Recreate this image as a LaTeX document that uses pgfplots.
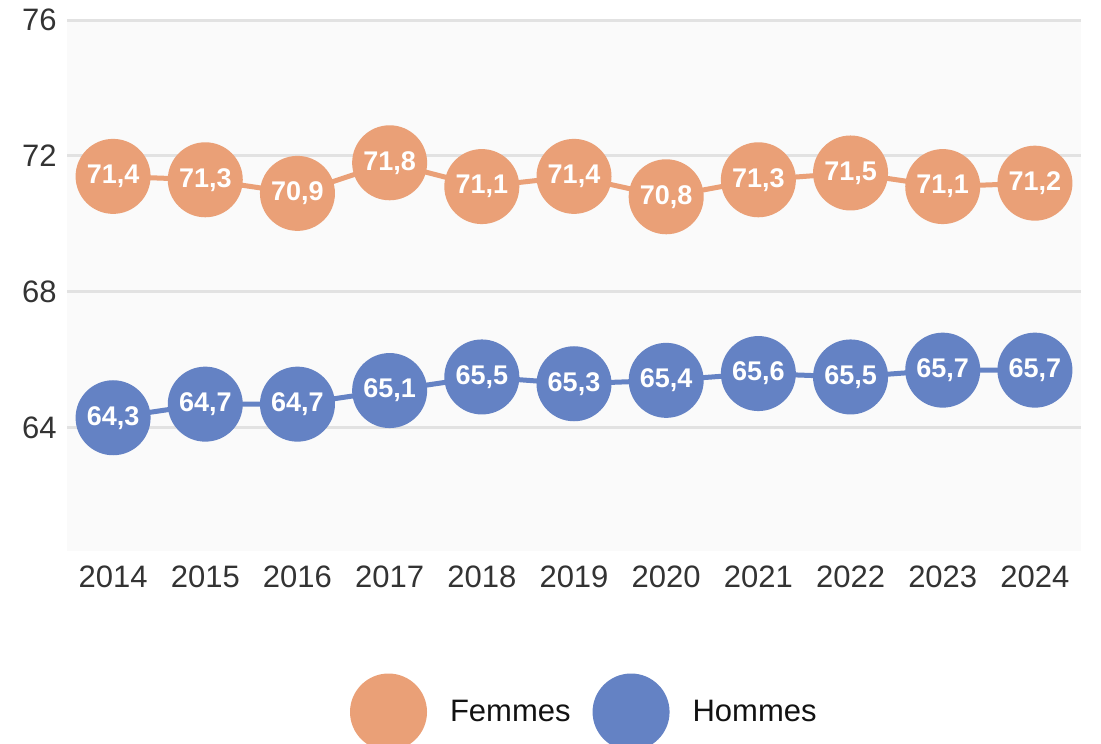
\documentclass[border=0pt]{standalone}
\usepackage{pgfplots}
\pgfplotsset{compat=1.18}
\usepackage{fontspec}
\setmainfont{Liberation Sans}
\definecolor{ocol}{HTML}{EAA077}
\definecolor{bcol}{HTML}{6482C4}
\definecolor{bgcol}{HTML}{FAFAFA}
\definecolor{gridcol}{HTML}{E2E2E2}
\definecolor{tickcol}{HTML}{333333}
\begin{document}
\begin{tikzpicture}
\useasboundingbox (0,0) rectangle (550.5bp,-372bp);
\begin{axis}[
  at={(33.5bp,-275.5bp)}, anchor=south west,
  scale only axis, width=507bp, height=265.5bp,
  xmin=2013.5, xmax=2024.5, ymin=60.38, ymax=76,
  clip=false,
  axis background/.style={fill=bgcol},
  axis line style={draw=none},
  major tick length=0pt,
  ymajorgrids,
  grid style={line width=1.5bp, color=gridcol},
  xtick={2014,2015,2016,2017,2018,2019,2020,2021,2022,2023,2024},
  xticklabels={2014,2015,2016,2017,2018,2019,2020,2021,2022,2023,2024},
  ytick={64,68,72,76},
  yticklabels={64,68,72,76},
  tick label style={font=\fontsize{15.5bp}{18bp}\selectfont, text=tickcol, inner sep=0pt},
  xticklabel style={anchor=north, yshift=-7bp},
  yticklabel style={anchor=east, xshift=-5bp},
  nodes near coords={\pgfmathprintnumber[fixed, fixed zerofill, precision=1, use comma, assume math mode=true]{\pgfplotspointmeta}},
  every node near coord/.append style={anchor=center, text=white, font=\bfseries\fontsize{13.5bp}{16bp}\selectfont, inner sep=0pt},
  legend columns=2,
  legend style={at={(axis description cs:0.2791,-0.3032)}, anchor=west, draw=none, fill=none, inner sep=0pt, outer sep=0pt,
    nodes={inner sep=0pt}, font=\fontsize{15.5bp}{18bp}\selectfont, text=black!93,
    /tikz/every odd column/.append style={column sep=11.5bp},
    /tikz/every even column/.append style={column sep=11bp}},
]
\addplot[color=ocol, line width=2.5bp, mark=*, mark size=17.5bp, mark options={fill=ocol, draw=none},
  legend image code/.code={\fill[ocol] (18bp,0bp) circle (18bp);}]
  coordinates {(2014,71.4) (2015,71.3) (2016,70.9) (2017,71.8) (2018,71.1) (2019,71.4) (2020,70.8) (2021,71.3) (2022,71.5) (2023,71.1) (2024,71.2)};
\addlegendentry{Femmes}
\addplot[color=bcol, line width=2.5bp, mark=*, mark size=17.5bp, mark options={fill=bcol, draw=none},
  legend image code/.code={\fill[bcol] (18bp,0bp) circle (18bp);}]
  coordinates {(2014,64.3) (2015,64.7) (2016,64.7) (2017,65.1) (2018,65.5) (2019,65.3) (2020,65.4) (2021,65.6) (2022,65.5) (2023,65.7) (2024,65.7)};
\addlegendentry{Hommes}
\end{axis}
\end{tikzpicture}
\end{document}
